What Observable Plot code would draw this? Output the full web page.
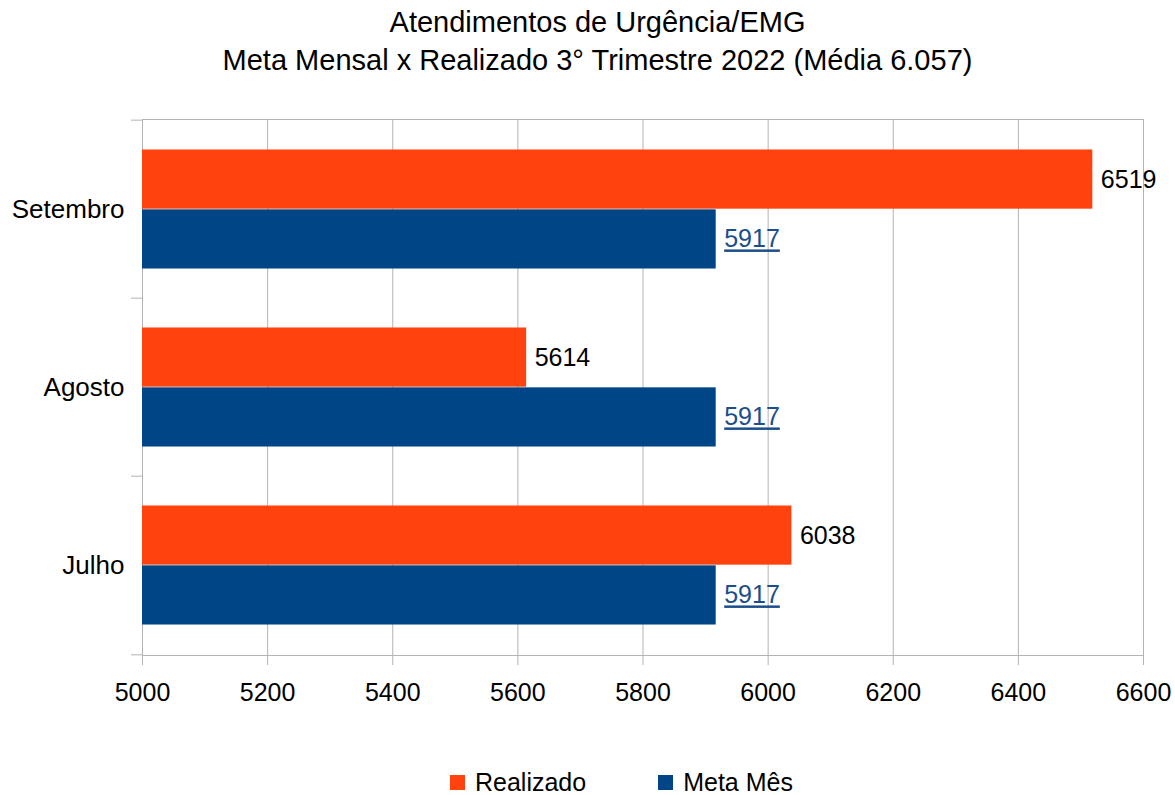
<!DOCTYPE html>
<html>
<head>
<meta charset="utf-8">
<script src="https://cdn.jsdelivr.net/npm/d3@7"></script>
<script src="https://cdn.jsdelivr.net/npm/@observablehq/plot@0.6"></script>
<style>
  body { margin: 0; background: #fff; font-family: "Liberation Sans", Arial, sans-serif; }
  #wrap { position: relative; width: 1175px; height: 795px; overflow: hidden; }
  #title { position: absolute; top: 3px; left: 10px; width: 1175px; text-align: center; font-size: 29px; line-height: 38px; color: #000; }
  #chart { position: absolute; top: 80px; left: 0; }
  #legend { position: absolute; top: 769px; left: 450px; height: 26px; line-height: 26px; display: flex; align-items: center; font-size: 25px; color: #000; }
  .sw { width: 15px; height: 15px; display: inline-block; margin-right: 10px; }
  .item { display: flex; align-items: center; margin-right: 72px; }
</style>
</head>
<body>
<div id="wrap">
  <div id="title"></div>
  <div id="chart"></div>
  <div id="legend"></div>
</div>
<script>
const titleLines = ["Atendimentos de Urgência/EMG", "Meta Mensal x Realizado 3° Trimestre 2022 (Média 6.057)"];
const months = ["Setembro", "Agosto", "Julho"];
const realizado = [6519, 5614, 6038];
const meta = [5917, 5917, 5917];
const seriesNames = ["Realizado", "Meta Mês"];
const seriesColors = ["#ff420e", "#004586"];
const xTicks = [5000, 5200, 5400, 5600, 5800, 6000, 6200, 6400, 6600];
const xMin = 5000, xMax = 6600;

document.getElementById("title").innerHTML = titleLines.map(t => `<div>${t}</div>`).join("");
document.getElementById("legend").innerHTML = seriesNames.map((n, i) =>
  `<div class="item"><span class="sw" style="background:${seriesColors[i]}"></span>${n}</div>`).join("");

const rows = months.map((m, i) => ({month: m, realizado: realizado[i], meta: meta[i]}));

const width = 1175, height = 635, marginTop = 39, marginBottom = 60;
const band = (height - marginTop - marginBottom) / months.length;
const half = band / 2;
const barH = band * 0.335;

const grid = "#b3b3b3";

const chart = Plot.plot({
  width, height,
  marginTop, marginBottom, marginLeft: 142, marginRight: 32,
  style: {fontFamily: "Liberation Sans, Arial, sans-serif", fontSize: "25px", color: "#000", background: "#fff"},
  x: {domain: [xMin, xMax], ticks: xTicks, tickFormat: d => String(d), label: null},
  y: {domain: months, padding: 0, label: null},
  marks: [
    Plot.ruleX(xTicks, {x: d => d, stroke: grid, strokeWidth: 1}),
    Plot.frame({stroke: grid}),
    Plot.ruleY(months, {y: d => d, x1: xMin, x2: xMin, insetLeft: -11, dy: -half, stroke: grid}),
    Plot.ruleY([months[months.length - 1]], {y: d => d, x1: xMin, x2: xMin, insetLeft: -11, dy: half, stroke: grid}),
    Plot.barX(rows, {y: "month", x1: () => xMin, x2: "realizado", fill: seriesColors[0], insetTop: half - barH, insetBottom: half}),
    Plot.barX(rows, {y: "month", x1: () => xMin, x2: "meta", fill: seriesColors[1], insetTop: half, insetBottom: half - barH}),
    Plot.text(rows, {y: "month", x: "realizado", text: d => String(d.realizado), dx: 8, dy: -barH / 2, textAnchor: "start", fill: "#000", fontSize: 25}),
    Plot.text(rows, {y: "month", x: "meta", text: d => String(d.meta), dx: 8, dy: barH / 2, textAnchor: "start", fill: "#1c4e8c", fontSize: 25, className: "metaLabel"}),
    Plot.axisX({ticks: xTicks, tickFormat: d => String(d), tickSize: 10, tickPadding: 18, stroke: grid}),
    Plot.axisY({tickSize: 0, tickPadding: 18, fontSize: 26})
  ]
});
chart.querySelectorAll(".metaLabel text").forEach(t => t.setAttribute("text-decoration", "underline"));
chart.querySelectorAll("g[aria-label='x-axis tick'] path").forEach(p => p.setAttribute("stroke", grid));
document.getElementById("chart").appendChild(chart);
</script>
</body>
</html>
